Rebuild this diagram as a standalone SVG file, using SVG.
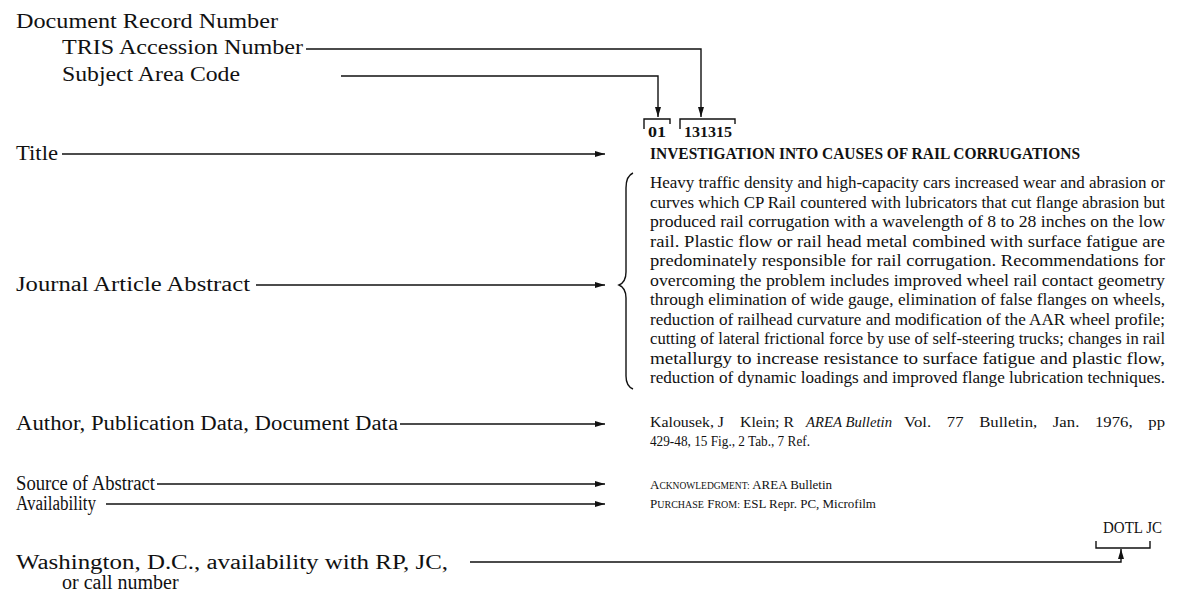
<svg xmlns="http://www.w3.org/2000/svg" width="1179" height="593" viewBox="0 0 1179 593">
<style>
.lbl{font-family:"Liberation Serif","Times New Roman",serif;font-size:20px;fill:#111}
.body{font-family:"Liberation Serif","Times New Roman",serif;font-size:16.5px;fill:#111}
.small{font-family:"Liberation Serif","Times New Roman",serif;font-size:14.5px;fill:#111}
.code{font-family:"Liberation Serif","Times New Roman",serif;font-size:15px;font-weight:bold;fill:#111}
.ttl{font-family:"Liberation Serif","Times New Roman",serif;font-size:16px;fill:#111;font-weight:bold}
.ln{fill:none;stroke:#111;stroke-width:1.4}
</style>
<defs>
<marker id="ah" viewBox="0 0 10 6" refX="10" refY="3" markerWidth="10" markerHeight="6" markerUnits="userSpaceOnUse" orient="auto">
<path d="M0,0 L10,3 L0,6 Z" fill="#111"/>
</marker>
</defs>
<rect width="1179" height="593" fill="#fff"/>

<g id="lbl-doc-record"><text class="lbl" x="16" y="28" textLength="262" lengthAdjust="spacingAndGlyphs">Document Record Number</text></g>
<g id="lbl-tris"><text class="lbl" x="62" y="54" textLength="241" lengthAdjust="spacingAndGlyphs">TRIS Accession Number</text></g>
<g id="lbl-subject"><text class="lbl" x="62" y="81" textLength="178" lengthAdjust="spacingAndGlyphs">Subject Area Code</text></g>
<g id="lbl-title"><text class="lbl" x="16" y="160" textLength="42" lengthAdjust="spacingAndGlyphs">Title</text></g>
<g id="lbl-abstract"><text class="lbl" x="16" y="291" textLength="234" lengthAdjust="spacingAndGlyphs">Journal Article Abstract</text></g>
<g id="lbl-author"><text class="lbl" x="16" y="430" textLength="382" lengthAdjust="spacingAndGlyphs">Author, Publication Data, Document Data</text></g>
<g id="lbl-source"><text class="lbl" x="16" y="490" textLength="139" lengthAdjust="spacingAndGlyphs">Source of Abstract</text></g>
<g id="lbl-availability"><text class="lbl" x="16" y="510" textLength="80" lengthAdjust="spacingAndGlyphs">Availability</text></g>
<g id="lbl-washington">
<text class="lbl" x="16" y="569" textLength="432" lengthAdjust="spacingAndGlyphs">Washington, D.C., availability with RP, JC,</text>
<text class="lbl" x="62" y="589">or call number</text>
</g>

<g id="codes">
<path class="ln" d="M644,129 V119 H670 V124"/>
<text class="code" x="648" y="137" textLength="18" lengthAdjust="spacingAndGlyphs">01</text>
<path class="ln" d="M680,129 V119 H735 V124"/>
<text class="code" x="684" y="137" textLength="48" lengthAdjust="spacingAndGlyphs">131315</text>
</g>

<g id="title-text"><text class="ttl" x="650" y="159" textLength="430" lengthAdjust="spacingAndGlyphs">INVESTIGATION INTO CAUSES OF RAIL CORRUGATIONS</text></g>

<g id="abstract">
<path class="ln" d="M633,173 Q626,176 626,188 L626,272 Q626,282 619,285 Q626,288 626,298 L626,376 Q626,386 633,389"/>
<text class="body" x="650" y="188" textLength="515" lengthAdjust="spacingAndGlyphs">Heavy traffic density and high-capacity cars increased wear and abrasion or</text>
<text class="body" x="650" y="207.5" textLength="515" lengthAdjust="spacingAndGlyphs">curves which CP Rail countered with lubricators that cut flange abrasion but</text>
<text class="body" x="650" y="227" textLength="515" lengthAdjust="spacingAndGlyphs">produced rail corrugation with a wavelength of 8 to 28 inches on the low</text>
<text class="body" x="650" y="246.5" textLength="515" lengthAdjust="spacingAndGlyphs">rail. Plastic flow or rail head metal combined with surface fatigue are</text>
<text class="body" x="650" y="266" textLength="515" lengthAdjust="spacingAndGlyphs">predominately responsible for rail corrugation. Recommendations for</text>
<text class="body" x="650" y="285.5" textLength="515" lengthAdjust="spacingAndGlyphs">overcoming the problem includes improved wheel rail contact geometry</text>
<text class="body" x="650" y="305" textLength="515" lengthAdjust="spacingAndGlyphs">through elimination of wide gauge, elimination of false flanges on wheels,</text>
<text class="body" x="650" y="324.5" textLength="515" lengthAdjust="spacingAndGlyphs">reduction of railhead curvature and modification of the AAR wheel profile;</text>
<text class="body" x="650" y="344" textLength="515" lengthAdjust="spacingAndGlyphs">cutting of lateral frictional force by use of self-steering trucks; changes in rail</text>
<text class="body" x="650" y="363.5" textLength="515" lengthAdjust="spacingAndGlyphs">metallurgy to increase resistance to surface fatigue and plastic flow,</text>
<text class="body" x="650" y="383" textLength="515" lengthAdjust="spacingAndGlyphs">reduction of dynamic loadings and improved flange lubrication techniques.</text>
</g>

<g id="author-data">
<text class="small" x="650" y="427" textLength="74" lengthAdjust="spacingAndGlyphs">Kalousek, J</text>
<text class="small" x="740" y="427" textLength="54" lengthAdjust="spacingAndGlyphs">Klein; R</text>
<text class="small" x="806" y="427" font-style="italic" textLength="86" lengthAdjust="spacingAndGlyphs">AREA Bulletin</text>
<text class="small" x="904" y="427" style="word-spacing:10px" textLength="261" lengthAdjust="spacingAndGlyphs">Vol. 77 Bulletin, Jan. 1976, pp</text>
<text class="small" x="650" y="446" textLength="160" lengthAdjust="spacingAndGlyphs">429-48, 15 Fig., 2 Tab., 7 Ref.</text>
</g>

<g id="source-data"><text class="small" x="650" y="489" style="font-size:13px">A<tspan style="font-size:9.5px">CKNOWLEDGMENT:</tspan> AREA Bulletin</text></g>
<g id="availability-data"><text class="small" x="650" y="508" style="font-size:13px">P<tspan style="font-size:10px">URCHASE</tspan> F<tspan style="font-size:10px">ROM:</tspan> ESL Repr. PC, Microfilm</text></g>

<g id="dotl">
<text class="lbl" x="1103" y="533" style="font-size:16px" textLength="59" lengthAdjust="spacingAndGlyphs">DOTL JC</text>
<path class="ln" d="M1096,541 V548 H1150 V541"/>
</g>

<g id="connectors">
<path class="ln" d="M306,49 H701 V117" marker-end="url(#ah)"/>
<path class="ln" d="M341,76 H658 V117" marker-end="url(#ah)"/>
<path class="ln" d="M62,154 H605" marker-end="url(#ah)"/>
<path class="ln" d="M256,285 H605" marker-end="url(#ah)"/>
<path class="ln" d="M400,424 H605" marker-end="url(#ah)"/>
<path class="ln" d="M157,484 H605" marker-end="url(#ah)"/>
<path class="ln" d="M106,504 H605" marker-end="url(#ah)"/>
<path class="ln" d="M470,562 H1121 V549" marker-end="url(#ah)"/>
</g>
</svg>
